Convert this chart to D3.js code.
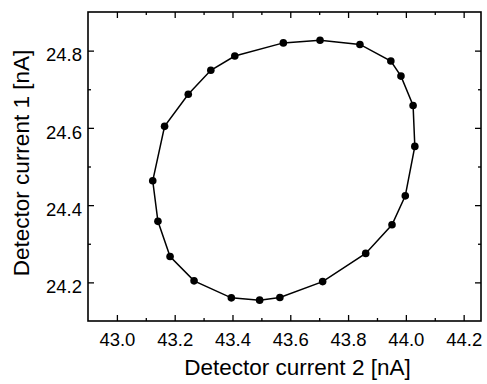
<!DOCTYPE html>
<html>
<head>
<meta charset="utf-8">
<script src="https://cdn.jsdelivr.net/npm/d3@7"></script>
<style>
  body { margin: 0; background: #fff; }
  svg { display: block; font-family: "Liberation Sans", Arial, sans-serif; }
  .domain { display: none; }
</style>
</head>
<body>
<div id="chart"></div>
<script>
// loop of measured points, clockwise from the leftmost one
var current2 = [43.124, 43.165, 43.247, 43.325, 43.408, 43.576, 43.703, 43.841, 43.948, 43.983, 44.025,
                44.031, 43.998, 43.952, 43.861, 43.712, 43.564, 43.494, 43.396, 43.267, 43.184, 43.142];
var current1 = [24.463, 24.604, 24.687, 24.749, 24.786, 24.820, 24.827, 24.816, 24.773, 24.734, 24.658,
                24.552, 24.424, 24.349, 24.275, 24.202, 24.161, 24.154, 24.160, 24.204, 24.267, 24.358];

var xMajor = [43.0, 43.2, 43.4, 43.6, 43.8, 44.0, 44.2];
var xMinor = [43.1, 43.3, 43.5, 43.7, 43.9, 44.1];
var yMajor = [24.2, 24.4, 24.6, 24.8];
var yMinor = [24.3, 24.5, 24.7];

var xTitle = "Detector current 2 [nA]",
    yTitle = "Detector current 1 [nA]";

var width = 487,
    height = 384,
    margin = {top: 12, right: 6, bottom: 63, left: 88},
    innerWidth = width - margin.left - margin.right,
    innerHeight = height - margin.top - margin.bottom;

var x = d3.scaleLinear().domain([42.9, 44.26]).range([0, innerWidth]);
var y = d3.scaleLinear().domain([24.1, 24.9]).range([innerHeight, 0]);

var svg = d3.select("#chart").append("svg")
    .attr("width", width)
    .attr("height", height);

var g = svg.append("g")
    .attr("transform", "translate(" + margin.left + "," + margin.top + ")");

var fmt = d3.format(".1f");

function styleAxis(sel) {
  sel.selectAll(".tick line").attr("stroke", "#000").attr("stroke-width", 1.3);
  sel.selectAll(".tick text")
      .attr("fill", "#000")
      .style("font-size", "18.5px");
}

// major ticks, pointing inward
g.append("g")
    .attr("transform", "translate(0," + innerHeight + ")")
    .call(d3.axisBottom(x).tickValues(xMajor).tickFormat(fmt).tickSize(-6).tickPadding(12))
    .call(styleAxis);

g.append("g")
    .call(d3.axisTop(x).tickValues(xMajor).tickFormat("").tickSize(-6))
    .call(styleAxis);

g.append("g")
    .call(d3.axisLeft(y).tickValues(yMajor).tickFormat(fmt).tickSize(-6).tickPadding(6))
    .call(styleAxis)
    .selectAll(".tick text").attr("dy", "0.55em");

g.append("g")
    .attr("transform", "translate(" + innerWidth + ",0)")
    .call(d3.axisRight(y).tickValues(yMajor).tickFormat("").tickSize(-6))
    .call(styleAxis);

// minor ticks
g.append("g")
    .attr("transform", "translate(0," + innerHeight + ")")
    .call(d3.axisBottom(x).tickValues(xMinor).tickFormat("").tickSize(-3))
    .call(styleAxis);
g.append("g")
    .call(d3.axisTop(x).tickValues(xMinor).tickFormat("").tickSize(-3))
    .call(styleAxis);
g.append("g")
    .call(d3.axisLeft(y).tickValues(yMinor).tickFormat("").tickSize(-3))
    .call(styleAxis);
g.append("g")
    .attr("transform", "translate(" + innerWidth + ",0)")
    .call(d3.axisRight(y).tickValues(yMinor).tickFormat("").tickSize(-3))
    .call(styleAxis);

// frame
g.append("rect")
    .attr("width", innerWidth)
    .attr("height", innerHeight)
    .attr("fill", "none")
    .attr("stroke", "#000")
    .attr("stroke-width", 1.6);

var points = current2.map(function(d, i) { return [d, current1[i]]; });

var line = d3.line()
    .x(function(d) { return x(d[0]); })
    .y(function(d) { return y(d[1]); })
    .curve(d3.curveLinearClosed);

g.append("path")
    .datum(points)
    .attr("d", line)
    .attr("fill", "none")
    .attr("stroke", "#000")
    .attr("stroke-width", 1.5);

g.selectAll(".dot")
    .data(points)
  .enter().append("circle")
    .attr("class", "dot")
    .attr("cx", function(d) { return x(d[0]); })
    .attr("cy", function(d) { return y(d[1]); })
    .attr("r", 3.8)
    .attr("fill", "#000");

// axis titles
svg.append("text")
    .attr("x", 297.5)
    .attr("y", 375)
    .attr("text-anchor", "middle")
    .style("font-size", "22.5px")
    .text(xTitle);

svg.append("text")
    .attr("transform", "translate(29,163) rotate(-90)")
    .attr("text-anchor", "middle")
    .style("font-size", "22.5px")
    .text(yTitle);
</script>
</body>
</html>
